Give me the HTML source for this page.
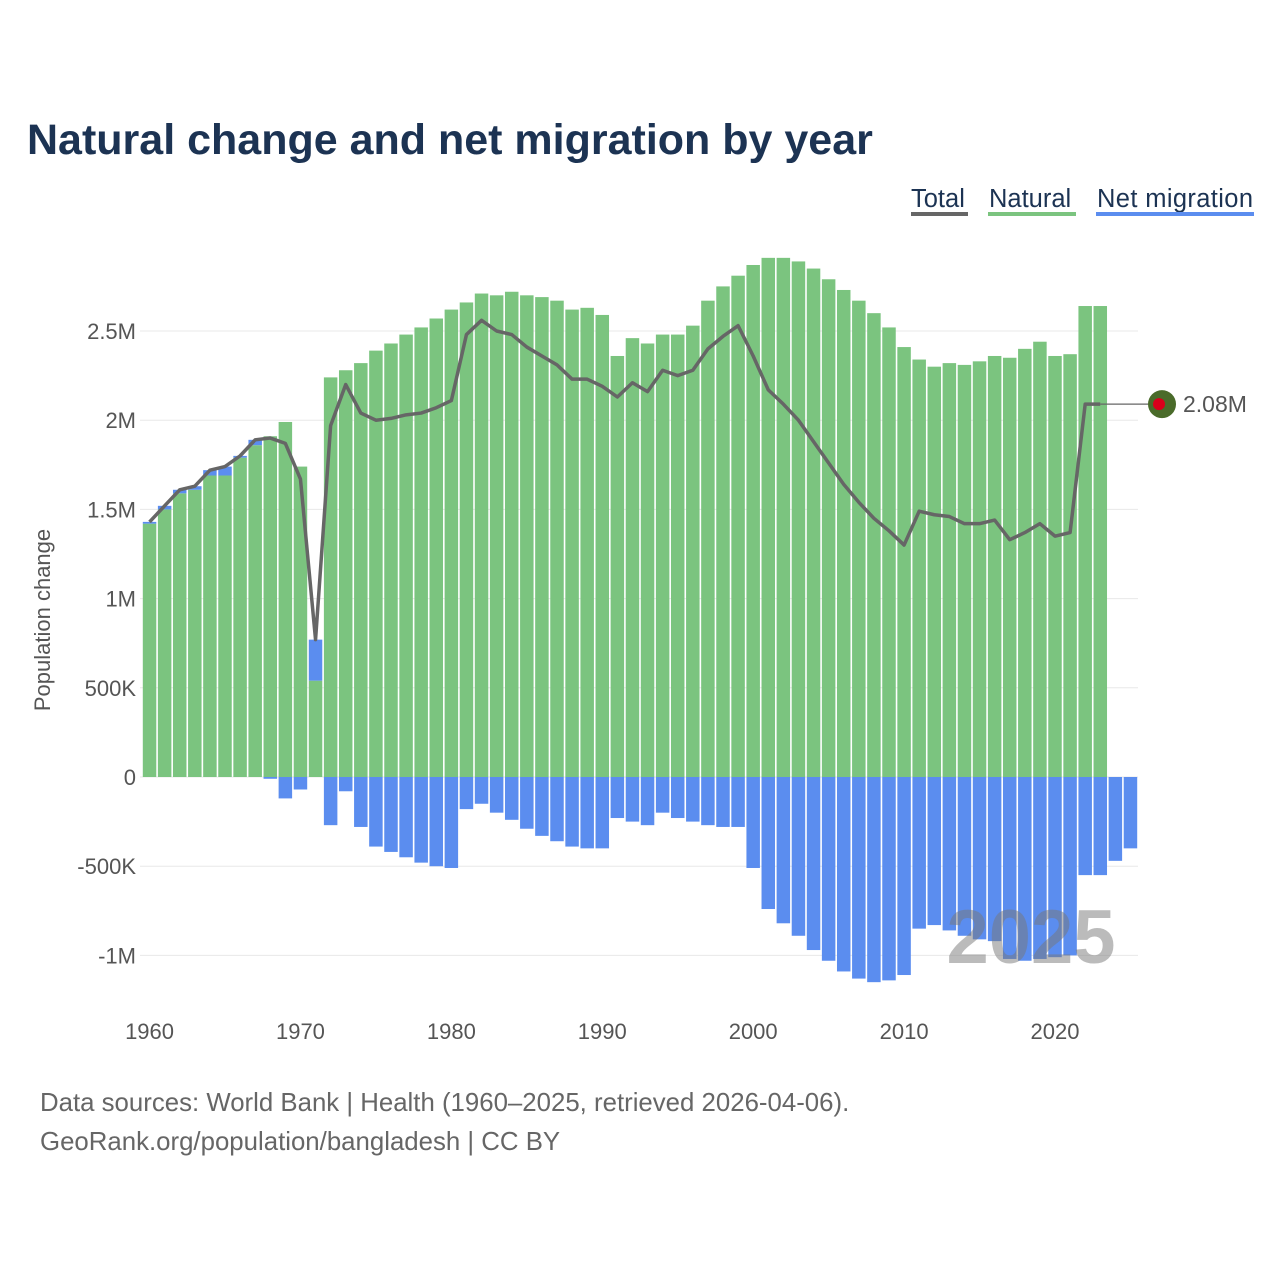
<!DOCTYPE html>
<html><head><meta charset="utf-8">
<style>
html,body{margin:0;padding:0;background:#fff;}
body{width:1280px;height:1280px;overflow:hidden;font-family:"Liberation Sans",sans-serif;}
</style></head>
<body>
<svg id="chart" width="1280" height="1280" viewBox="0 0 1280 1280" xmlns="http://www.w3.org/2000/svg" font-family="Liberation Sans, sans-serif">
<text x="27" y="154" font-size="43" font-weight="bold" fill="#1c3353">Natural change and net migration by year</text>
<g font-size="25.5" fill="#1c3353">
<g><text x="911" y="207">Total</text><rect x="911" y="212" width="57" height="4" fill="#666"/></g>
<g><text x="989" y="207">Natural</text><rect x="988" y="212" width="88" height="4" fill="#7bc47f"/></g>
<g><text x="1097" y="207" textLength="156">Net migration</text><rect x="1096" y="212" width="158" height="4" fill="#5b8def"/></g>
</g>
<g id="grid"></g>
<g id="yticks" font-size="22" fill="#555" text-anchor="end"></g>
<g id="xticks" font-size="22" fill="#555" text-anchor="middle"></g>
<text transform="translate(50,620) rotate(-90)" font-size="22" fill="#555" text-anchor="middle">Population change</text>
<g id="bars"></g>
<text x="1031" y="963" font-size="76" font-weight="bold" fill="rgba(120,120,120,0.5)" text-anchor="middle">2025</text>
<g id="line"></g>
<g font-size="25.8" fill="#666">
<text x="40" y="1111">Data sources: World Bank | Health (1960–2025, retrieved 2026-04-06).</text>
<text x="40" y="1150">GeoRank.org/population/bangladesh | CC BY</text>
</g>
</svg>
<script>
const years = [];
for (let y = 1960; y <= 2025; y++) years.push(y);
const natural = [1.42,1.50,1.59,1.61,1.69,1.69,1.79,1.86,1.91,1.99,1.74,0.54,2.24,2.28,2.32,2.39,2.43,2.48,2.52,2.57,2.62,2.66,2.71,2.70,2.72,2.70,2.69,2.67,2.62,2.63,2.59,2.36,2.46,2.43,2.48,2.48,2.53,2.67,2.75,2.81,2.87,2.91,2.91,2.89,2.85,2.79,2.73,2.67,2.60,2.52,2.41,2.34,2.30,2.32,2.31,2.33,2.36,2.35,2.40,2.44,2.36,2.37,2.64,2.64,null,null];
const migration = [0.01,0.02,0.02,0.02,0.03,0.05,0.01,0.03,-0.01,-0.12,-0.07,0.23,-0.27,-0.08,-0.28,-0.39,-0.42,-0.45,-0.48,-0.50,-0.51,-0.18,-0.15,-0.20,-0.24,-0.29,-0.33,-0.36,-0.39,-0.40,-0.40,-0.23,-0.25,-0.27,-0.20,-0.23,-0.25,-0.27,-0.28,-0.28,-0.51,-0.74,-0.82,-0.89,-0.97,-1.03,-1.09,-1.13,-1.15,-1.14,-1.11,-0.85,-0.83,-0.86,-0.89,-0.91,-0.92,-1.02,-1.03,-1.02,-1.01,-1.00,-0.55,-0.55,-0.47,-0.40];
const yTickValues = [-1,-0.5,0,0.5,1,1.5,2,2.5];
const yTickLabels = ["-1M","-500K","0","500K","1M","1.5M","2M","2.5M"];
const xTickYears = [1960,1970,1980,1990,2000,2010,2020];
const lastTotalLabel = "2.08M";

const NS = "http://www.w3.org/2000/svg";
const step = (1138 - 142) / 66;
const X = yr => 142 + step * (yr - 1960) + step / 2;
const Y = v => 777 - v * 178.4;
const bw = step - 1.6;
function mk(tag, attrs, parent) { const e = document.createElementNS(NS, tag); for (const k in attrs) e.setAttribute(k, attrs[k]); parent.appendChild(e); return e; }

const grid = document.getElementById('grid'), yt = document.getElementById('yticks'), xt = document.getElementById('xticks');
yTickValues.forEach((v, i) => {
  const g = mk('line', {x1: 140, x2: 1138, y1: Y(v), y2: Y(v), stroke: '#e8e8e8', 'stroke-width': 1}, grid);
  
  
  const t = mk('text', {x: 136, y: Y(v) + 8}, yt);
  t.textContent = yTickLabels[i];
  
  
});
xTickYears.forEach(yr => {
  const t = mk('text', {x: X(yr), y: 1039}, xt);
  t.textContent = yr;
  
  
});

const bars = document.getElementById('bars');
years.forEach((yr, i) => {
  const n = natural[i], m = migration[i];
  const x = X(yr) - bw / 2;
  if (n !== null) {
    const r = mk('rect', {x: x, y: Y(n), width: bw, height: Y(0) - Y(n), fill: '#7bc47f'}, bars);
    
    
  }
  if (m !== null) {
    let y0, y1;
    if (m >= 0 && n !== null) { y0 = Y(n + m); y1 = Y(n); } else if (m >= 0) { y0 = Y(m); y1 = Y(0); } else { y0 = Y(0); y1 = Y(m); }
    const r = mk('rect', {x: x, y: y0, width: bw, height: Math.max(y1 - y0, 0.5), fill: '#5b8def'}, bars);
    
    
  }
});

const lg = document.getElementById('line');
const pts = [];
years.forEach((yr, i) => { if (natural[i] !== null) pts.push([X(yr), Y(natural[i] + migration[i])]); });
const pl = mk('polyline', {points: pts.map(p => p.join(',')).join(' '), fill: 'none', stroke: '#666', 'stroke-width': 3.5, 'stroke-linejoin': 'round'}, lg);


const last = pts[pts.length - 1];
const conn = mk('line', {x1: last[0], y1: last[1], x2: 1150, y2: last[1], stroke: '#666', 'stroke-width': 1.2}, lg);


const c1 = mk('circle', {cx: 1162, cy: last[1], r: 14, fill: '#4a6b2a'}, lg);


const c2 = mk('circle', {cx: 1159, cy: last[1], r: 6, fill: '#d9001b'}, lg);


const lt = mk('text', {x: 1183, y: last[1] + 8, 'font-size': 23, fill: '#555'}, lg);
lt.textContent = lastTotalLabel;


</script>
</body></html>
